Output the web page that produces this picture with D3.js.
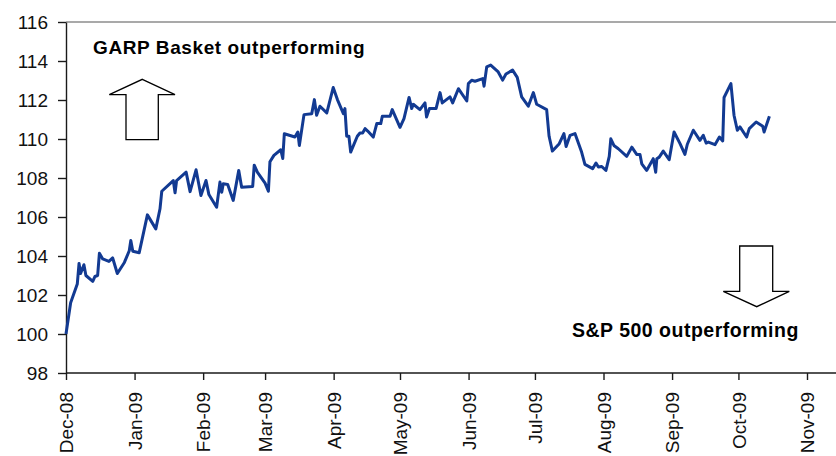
<!DOCTYPE html>
<html>
<head>
<meta charset="utf-8">
<script src="https://cdn.jsdelivr.net/npm/d3@7"></script>
<style>
  html, body { margin: 0; padding: 0; background: #fff; }
  svg { display: block; font-family: "Liberation Sans", Arial, sans-serif; }
</style>
</head>
<body>
<div id="chart"></div>
<script>
// days after 1 Dec 2008
const dayOffsets = [
  0, 2.1, 5.1, 5.9, 6.6, 8.1, 9.0, 12.1, 13.1, 14.3, 15.1, 16.6, 19.4, 21.1, 23.2, 26.4, 28.6, 29.3, 30.2, 33.1,
  36.8, 40.6, 42.5, 43.3, 48.5, 49.3, 50.0, 54.3, 56.1, 58.8, 61.0, 63.3, 64.6, 68.1, 69.6, 70.4, 71.1, 73.1, 75.6, 78.1,
  79.4, 84.4, 85.1, 86.5, 90.0, 91.5, 92.2, 94.0, 97.1, 98.0, 98.7, 103.5, 104.8, 105.5, 107.6, 111.1, 112.3, 113.3, 114.8, 117.9,
  120.8, 122.7, 125.4, 126.1, 126.9, 127.9, 128.7, 131.7, 132.9, 134.1, 135.2, 136.4, 138.9, 140.5, 142.3, 143.0, 146.5, 147.5, 151.0, 152.8,
  155.1, 156.3, 157.0, 160.0, 162.3, 163.0, 164.3, 167.3, 169.1, 170.1, 173.6, 174.8, 177.4, 181.2, 181.9, 183.4, 184.9, 188.4, 189.0, 190.2,
  192.0, 195.4, 197.4, 198.9, 201.9, 204.0, 206.0, 209.0, 211.3, 212.8, 217.3, 218.4, 219.9, 223.0, 225.1, 226.1, 227.9, 230.1, 233.1, 234.6,
  238.1, 239.6, 240.7, 242.2, 244.1, 245.6, 246.3, 247.7, 249.7, 253.5, 255.8, 258.0, 259.5, 260.3, 262.5, 265.5, 266.6, 267.1, 268.2, 270.0,
  272.7, 274.9, 277.6, 279.8, 280.9, 283.6, 286.6, 288.1, 289.4, 290.4, 293.4, 295.4, 296.9, 297.5, 300.6, 302.0, 303.5, 304.7, 307.7, 308.9,
  312.0, 315.0, 315.6, 318.0
];
const ratio = [
  100.0, 101.6, 102.56, 103.62, 103.1, 103.55, 103.0, 102.7, 102.95, 103.0, 104.14, 103.85, 103.72, 103.9, 103.1, 103.67, 104.27, 104.79, 104.24, 104.17,
  106.11, 105.39, 106.42, 107.32, 107.87, 107.24, 107.87, 108.3, 107.3, 108.42, 107.1, 107.87, 107.15, 106.5, 107.79, 107.27, 107.7, 107.67, 106.85, 108.39,
  107.53, 107.57, 108.66, 108.3, 107.74, 107.32, 108.83, 109.16, 109.45, 109.0, 110.27, 110.1, 110.36, 109.67, 111.25, 111.3, 112.02, 111.22, 111.68, 111.34,
  112.64, 112.02, 111.3, 111.56, 110.14, 110.14, 109.33, 110.14, 110.31, 110.31, 110.53, 110.41, 110.1, 110.79, 110.79, 111.17, 111.17, 111.51, 110.6, 111.05,
  112.13, 111.56, 111.78, 111.51, 111.85, 111.13, 111.56, 111.56, 112.38, 111.85, 112.16, 111.85, 112.58, 111.95, 112.84, 113.01, 112.96, 113.1, 112.71, 113.7,
  113.79, 113.44, 113.02, 113.33, 113.53, 113.16, 112.16, 111.68, 112.38, 111.78, 111.51, 110.14, 109.38, 109.76, 110.28, 109.62, 110.19, 110.28, 109.33, 108.7,
  108.48, 108.77, 108.56, 108.59, 108.39, 109.11, 110.01, 109.67, 109.5, 109.11, 109.58, 109.21, 109.21, 108.73, 108.39, 108.99, 108.3, 108.99, 109.07, 109.38,
  108.94, 110.36, 109.76, 109.21, 109.73, 110.45, 109.93, 110.19, 109.79, 109.84, 109.71, 110.1, 109.9, 112.13, 112.84, 111.22, 110.45, 110.62, 110.1, 110.53,
  110.87, 110.65, 110.36, 111.17
];
const monthLabels = ["Dec-08", "Jan-09", "Feb-09", "Mar-09", "Apr-09", "May-09", "Jun-09",
                     "Jul-09", "Aug-09", "Sep-09", "Oct-09", "Nov-09"];
const yTicks = [98, 100, 102, 104, 106, 108, 110, 112, 114, 116];

const width = 836, height = 456;
const margin = { top: 22, left: 66, bottom: 83 };
const startDate = new Date(2008, 11, 1);
const endDate = new Date(2009, 10, 1);
const toDate = d => new Date(startDate.getTime() + d * 864e5);

const data = dayOffsets.map((d, i) => ({ date: toDate(d), value: ratio[i] }));

const x = d3.scaleTime().domain([startDate, endDate]).range([margin.left, 807]);
const y = d3.scaleLinear().domain([98, 116]).range([height - margin.bottom, margin.top]);

const svg = d3.select("#chart").append("svg")
  .attr("width", width)
  .attr("height", height);

// top frame line
svg.append("line")
  .attr("x1", margin.left).attr("x2", width)
  .attr("y1", y(116)).attr("y2", y(116))
  .attr("stroke", "#8c8c8c").attr("stroke-width", 1.5);

// y axis
const yAxis = svg.append("g")
  .attr("transform", `translate(${margin.left},0)`)
  .call(d3.axisLeft(y).tickValues(yTicks).tickSize(8).tickPadding(10).tickSizeOuter(0));
yAxis.selectAll("text").attr("font-size", "19px").attr("fill", "#111").attr("font-family", "Liberation Sans, Arial, sans-serif");
yAxis.selectAll("line, path").attr("stroke", "#1a1a1a").attr("stroke-width", 1.4);

// x axis
const monthTicks = d3.timeMonth.range(startDate, d3.timeDay.offset(endDate, 1));
const xAxis = svg.append("g")
  .attr("transform", `translate(0,${y(98)})`)
  .call(d3.axisBottom(x).tickValues(monthTicks).tickSize(7).tickSizeOuter(0)
    .tickFormat((d, i) => monthLabels[i]));
xAxis.select(".domain").attr("d", `M${margin.left},0H${width}`);
xAxis.selectAll("line, path").attr("stroke", "#1a1a1a").attr("stroke-width", 1.4);
xAxis.selectAll("text")
  .attr("font-size", "19px")
  .attr("fill", "#111")
  .attr("font-family", "Liberation Sans, Arial, sans-serif")
  .attr("text-anchor", "end")
  .attr("transform", "rotate(-90)")
  .attr("x", -19)
  .attr("y", 0)
  .attr("dy", "0.35em");

// series
svg.append("path")
  .datum(data)
  .attr("fill", "none")
  .attr("stroke", "#123a92")
  .attr("stroke-width", 3)
  .attr("stroke-linejoin", "round")
  .attr("d", d3.line().x(d => x(d.date)).y(d => y(d.value)));

// annotations
svg.append("text")
  .attr("x", 93).attr("y", 54)
  .attr("font-size", "19px").attr("font-weight", "bold")
  .attr("letter-spacing", "0.6px")
  .attr("fill", "#000")
  .text("GARP Basket outperforming");

svg.append("text")
  .attr("x", 572).attr("y", 337)
  .attr("font-size", "19.5px").attr("font-weight", "bold")
  .attr("letter-spacing", "0.5px")
  .attr("fill", "#000")
  .text("S&P 500 outperforming");

const arrowStyle = sel => sel.attr("fill", "#fff").attr("stroke", "#000").attr("stroke-width", 1.3);

svg.append("path")
  .attr("d", "M142.3,79.3 L175,94.7 L158.3,94.7 L158.3,139.7 L126,139.7 L126,94.7 L109.3,94.7 Z")
  .call(arrowStyle);

svg.append("path")
  .attr("d", "M739.7,246 L772.7,246 L772.7,291.3 L789.3,291.3 L756.7,306.7 L723.3,291.3 L739.7,291.3 Z")
  .call(arrowStyle);
</script>
</body>
</html>
